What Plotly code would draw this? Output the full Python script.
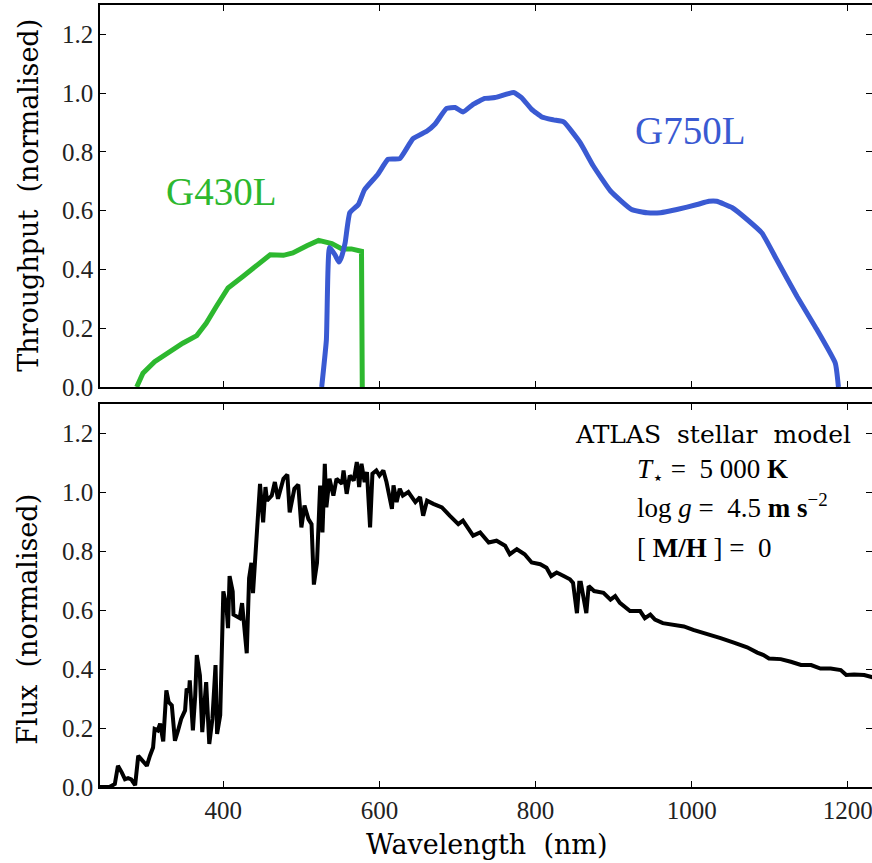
import plotly.graph_objects as go

# ---------------- data ----------------
g430_nm = [289, 297, 312, 331, 348, 366, 378, 391, 406, 425, 443, 460, 477, 489, 507, 522, 539, 552, 564, 577, 578]
g430_tp = [0, 0.047, 0.086, 0.12, 0.149, 0.175, 0.217, 0.274, 0.337, 0.376, 0.416, 0.45, 0.448, 0.456, 0.481, 0.499, 0.488, 0.47, 0.47, 0.462, 0]

g750_nm = [526, 532, 536, 543, 548, 551, 556, 562, 573, 581, 598, 611, 626, 643, 661, 671, 686, 697, 707, 720, 735, 748,
           772, 782, 795, 808, 823, 836, 857, 874, 896, 923, 943, 960, 981, 1007, 1022, 1032, 1052, 1071, 1090, 1109,
           1135, 1158, 1184, 1188]
g750_tp = [0, 0.16, 0.475, 0.45, 0.425, 0.44, 0.49, 0.593, 0.621, 0.672, 0.724, 0.775, 0.777, 0.845, 0.871, 0.894, 0.948,
           0.951, 0.936, 0.962, 0.982, 0.985, 1.002, 0.985, 0.945, 0.919, 0.909, 0.902, 0.832, 0.752, 0.667, 0.604, 0.593,
           0.593, 0.604, 0.621, 0.632, 0.632, 0.61, 0.57, 0.524, 0.433, 0.308, 0.206, 0.081, 0]

spec_nm = [242, 254, 261, 265, 270, 274, 278, 282, 287, 291, 295, 302, 306, 310, 312, 316, 319, 323, 327, 330,
           334, 338, 342, 346, 351, 353, 356, 357, 361, 364, 366, 370, 373, 378, 382, 386, 390, 392, 396, 400,
           404, 406, 408, 412, 413, 417, 421, 424, 426, 430, 433, 436, 438, 441, 444, 447, 451, 454, 456, 462,
           466, 470, 477, 482, 485, 491, 496, 500, 504, 509, 513, 516, 520, 524, 527, 530, 532, 536, 541, 545,
           552, 554, 558, 562, 567, 571, 574, 577, 581, 584, 588, 591, 596, 600, 605, 609, 616, 618, 622, 626,
           630, 637, 646, 652, 656, 661, 669, 680, 690, 701, 707, 714, 720, 729, 740, 750, 761, 767, 776, 786,
           795, 806, 814, 820, 827, 836, 844, 848, 853, 856, 858, 865, 868, 875, 887, 896, 902, 908, 921, 934,
           940, 947, 953, 963, 977, 990, 1002, 1020, 1037, 1054, 1071, 1084, 1092, 1099, 1114, 1127, 1140, 1153, 1165, 1178,
           1191, 1198, 1208, 1221, 1232]
spec_flux = [0, 0, 0.01, 0.072, 0.049, 0.026, 0.03, 0.026, 0.006, 0.106, 0.094, 0.072, 0.106, 0.134, 0.197, 0.192, 0.215, 0.155, 0.328, 0.288,
             0.277, 0.157, 0.192, 0.231, 0.26, 0.334, 0.322, 0.362, 0.192, 0.311, 0.448, 0.379, 0.186, 0.356, 0.146, 0.231, 0.414, 0.18, 0.243, 0.664,
             0.613, 0.539, 0.716, 0.664, 0.585, 0.579, 0.573, 0.624, 0.568, 0.454, 0.709, 0.761, 0.658, 0.795, 0.886, 1.029, 0.898, 1.018, 0.972, 0.989,
             1.035, 0.978, 1.046, 1.06, 0.932, 1.012, 1.026, 0.881, 0.955, 0.909, 0.892, 0.687, 0.761, 1.023, 0.864, 1.097, 0.949, 1.046, 0.989, 1.046,
             1.029, 1.074, 0.995, 1.057, 1.04, 1.103, 1.018, 1.097, 1.035, 1.069, 0.881, 1.063, 1.074, 1.057, 1.074, 1.035, 0.944, 1.024, 0.967, 1.012,
             0.989, 1.001, 0.967, 0.984, 0.921, 0.972, 0.961, 0.949, 0.921, 0.892, 0.904, 0.875, 0.853, 0.864, 0.83, 0.836, 0.819, 0.79, 0.807, 0.79,
             0.762, 0.756, 0.744, 0.716, 0.728, 0.716, 0.705, 0.693, 0.59, 0.693, 0.693, 0.59, 0.682, 0.665, 0.659, 0.636, 0.648, 0.625, 0.597, 0.597,
             0.573, 0.585, 0.568, 0.556, 0.551, 0.545, 0.533, 0.52, 0.505, 0.49, 0.474, 0.456, 0.448, 0.436, 0.434, 0.425, 0.414, 0.414, 0.402, 0.402,
             0.397, 0.38, 0.382, 0.38, 0.372]

x_ticks = [400, 600, 800, 1000, 1200]
y_ticks = [0.0, 0.2, 0.4, 0.6, 0.8, 1.0, 1.2]

GREEN = "#2db82f"
BLUE = "#3a5ad2"
SERIF = "Liberation Serif"
TEXTSERIF = "DejaVu Serif"

# ---------------- figure ----------------
fig = go.Figure()
fig.add_trace(go.Scatter(x=g430_nm, y=g430_tp, mode="lines",
                         line=dict(color=GREEN, width=5), xaxis="x", yaxis="y"))
fig.add_trace(go.Scatter(x=g750_nm, y=g750_tp, mode="lines",
                         line=dict(color=BLUE, width=5, shape="spline", smoothing=0.4), xaxis="x", yaxis="y"))
fig.add_trace(go.Scatter(x=spec_nm, y=spec_flux, mode="lines", line=dict(color="black", width=4),
                         xaxis="x2", yaxis="y2"))

ax = dict(showline=True, linecolor="black", linewidth=1.5, ticks="inside", ticklen=6,
          tickwidth=1, tickcolor="black", showgrid=False, zeroline=False,
          tickfont=dict(family=SERIF, size=25, color="#222"))
# right-hand tick marks only (the right spine lies just outside the picture)
rax = dict(showline=False, ticks="inside", ticklen=6, tickwidth=1, tickcolor="black", showgrid=False,
           zeroline=False, showticklabels=False, side="right", range=[0, 1.3], tickvals=y_ticks)

fig.update_layout(
    width=872, height=863,
    margin=dict(l=100, r=0, t=5, b=76),
    paper_bgcolor="white", plot_bgcolor="white",
    showlegend=False,
    xaxis=dict(ax, mirror="ticks", domain=[0, 1], anchor="y", range=[242, 1231], tickvals=x_ticks, showticklabels=False),
    yaxis=dict(ax, mirror=False, domain=[0.5115, 1], anchor="x", range=[0, 1.3], tickvals=y_ticks, tickformat=".1f"),
    xaxis2=dict(ax, mirror="ticks", domain=[0, 1], anchor="y2", range=[242, 1231], tickvals=x_ticks, matches="x",
                ticklabeloverflow="allow"),
    yaxis2=dict(ax, mirror=False, domain=[0, 0.4898], anchor="x2", range=[0, 1.3], tickvals=y_ticks, tickformat=".1f"),
    yaxis3=dict(rax, overlaying="y", anchor="x"),
    yaxis4=dict(rax, overlaying="y2", anchor="x2"),
)
# invisible traces so that the right-hand tick axes are drawn
fig.add_trace(go.Scatter(x=[None], y=[None], xaxis="x", yaxis="y3", hoverinfo="skip"))
fig.add_trace(go.Scatter(x=[None], y=[None], xaxis="x2", yaxis="y4", hoverinfo="skip"))

ann = []
ann.append(dict(text="Throughput&nbsp;&nbsp;(normalised)", xref="paper", yref="paper", x=-0.0935, y=0.757,
                textangle=-90, showarrow=False, xanchor="center", yanchor="middle",
                font=dict(family=TEXTSERIF, size=27, color="black")))
ann.append(dict(text="Flux&nbsp;&nbsp;(normalised)", xref="paper", yref="paper", x=-0.0935, y=0.215,
                textangle=-90, showarrow=False, xanchor="center", yanchor="middle",
                font=dict(family=TEXTSERIF, size=27, color="black")))
ann.append(dict(text="Wavelength&nbsp;&nbsp;(nm)", xref="paper", yref="paper", x=0.5, y=-0.074,
                showarrow=False, xanchor="center", yanchor="middle",
                font=dict(family=TEXTSERIF, size=27, color="black")))
ann.append(dict(text="G430L", xref="x", yref="y", x=398, y=0.666, showarrow=False,
                xanchor="center", yanchor="middle", font=dict(family=SERIF, size=39, color=GREEN)))
ann.append(dict(text="G750L", xref="x", yref="y", x=998, y=0.874, showarrow=False,
                xanchor="center", yanchor="middle", font=dict(family=SERIF, size=39, color=BLUE)))
ann.append(dict(text="ATLAS&nbsp;&nbsp;stellar&nbsp;&nbsp;model", xref="x2", yref="y2", x=1207, y=1.197, showarrow=False,
                xanchor="right", yanchor="middle", font=dict(family=TEXTSERIF, size=25, color="black")))
ann.append(dict(text="<i>T</i><sub>⋆</sub> = &nbsp;5 000 <b>K</b>", xref="x2", yref="y2", x=927, y=1.073, showarrow=False,
                xanchor="left", yanchor="middle", font=dict(family=SERIF, size=27, color="black")))
ann.append(dict(text="log <i>g</i> = &nbsp;4.5 <b>m s</b><sup>−2</sup>", xref="x2", yref="y2", x=927, y=0.954, showarrow=False,
                xanchor="left", yanchor="middle", font=dict(family=SERIF, size=27, color="black")))
ann.append(dict(text="[ <b>M/H</b> ] = &nbsp;0", xref="x2", yref="y2", x=927, y=0.81, showarrow=False,
                xanchor="left", yanchor="middle", font=dict(family=SERIF, size=27, color="black")))
fig.update_layout(annotations=ann)

fig.write_html("out.html")
